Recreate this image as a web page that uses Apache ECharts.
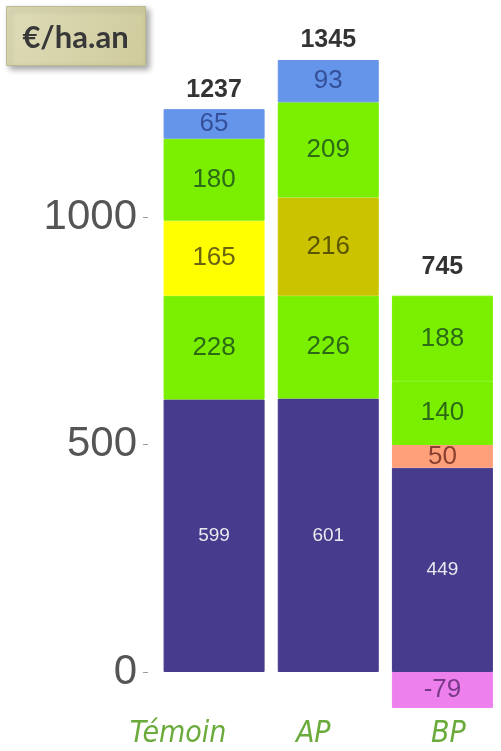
<!DOCTYPE html>
<html>
<head>
<meta charset="utf-8">
<script src="https://cdn.jsdelivr.net/npm/echarts@6/dist/echarts.min.js"></script>
<style>
  html, body { margin: 0; padding: 0; background: #ffffff; }
  #chart { width: 501px; height: 751px; }
</style>
</head>
<body>
<div id="chart"></div>
<script>
// Categories (scenarios) and stacked components, €/ha.an
const categories = ['Témoin', 'AP', 'BP'];
const layer1 = [599, 601, 449];      // base
const layer2 = [228, 226, 50];
const layer3 = [165, 216, 140];
const layer4 = [180, 209, 188];
const layer5 = [65, 93, null];
const negative = [null, null, -79];
const totals = [1237, 1345, 745];
const yTickValues = [0, 500, 1000];

// Fill colours for each layer, one per category
const layer1Colors = ['#473b8d', '#473b8d', '#473b8d'];
const layer2Colors = ['#7af000', '#7af000', '#ffa07a'];
const layer3Colors = ['#ffff00', '#cbc300', '#7af000'];
const layer4Colors = ['#7af000', '#7af000', '#7af000'];
const layer5Colors = ['#6595ea', '#6595ea', '#6595ea'];
const negativeColors = ['#ee80ee', '#ee80ee', '#ee80ee'];

// Darker text tone used for the value written on each fill colour
const labelTone = {
  '#473b8d': '#e8e8ee',
  '#7af000': '#2c6a16',
  '#ffa07a': '#8a4030',
  '#ffff00': '#6a6410',
  '#cbc300': '#5c5500',
  '#6595ea': '#35509a',
  '#ee80ee': '#783a88'
};

function buildData(values, colors) {
  return values.map((v, i) => {
    if (v === null) return null;
    const c = colors[i];
    return {
      value: v,
      // a hairline border in the fill colour hides seams between stacked pieces
      itemStyle: { color: c, borderColor: c, borderWidth: 1 },
      label: {
        color: labelTone[c],
        fontSize: c === '#473b8d' ? 19 : 26
      }
    };
  });
}

function barSeries(name, values, colors) {
  return {
    name: name,
    type: 'bar',
    stack: 'total',
    barWidth: 101,
    data: buildData(values, colors),
    label: {
      show: true,
      position: 'inside',
      fontFamily: 'Liberation Sans, Arial, sans-serif'
    },
    emphasis: { disabled: true },
    silent: true
  };
}

// Top of each positive stack, where the total is written
const stackTops = categories.map((_, i) =>
  [layer1, layer2, layer3, layer4, layer5].reduce((s, arr) => s + (arr[i] > 0 ? arr[i] : 0), 0)
);
const totalDistance = [7, 7, 16];

// Horizontal nudge of each category name
const nameShift = [-36, -15, 6];

const chart = echarts.init(document.getElementById('chart'), null, { renderer: 'canvas' });

chart.setOption({
  animation: false,
  backgroundColor: '#ffffff',
  grid: {
    left: 157, right: 1.5, top: 35, bottom: 33.5,
    containLabel: false,
    outerBoundsMode: 'none'
  },
  xAxis: {
    type: 'category',
    data: categories,
    axisLine: { show: false, onZero: false },
    axisTick: { show: false },
    splitLine: { show: false },
    axisLabel: {
      interval: 0,
      hideOverlap: false,
      margin: 2,
      formatter: (v) => {
        const i = categories.indexOf(v);
        return '{c' + i + '|' + v + '}';
      },
      rich: Object.fromEntries(categories.map((c, i) => {
        const d = nameShift[i];
        return ['c' + i, {
          fontFamily: 'Liberation Sans Narrow, DejaVu Sans Condensed, sans-serif',
          fontStyle: 'italic',
          fontSize: 30,
          color: '#6aab3c',
          lineHeight: 30,
          padding: d < 0 ? [0, -2 * d, 0, 0] : [0, 0, 0, 2 * d]
        }];
      }))
    }
  },
  yAxis: {
    type: 'value',
    min: -100,
    max: 1400,
    offset: 9,
    axisLine: { show: false },
    axisTick: {
      show: true,
      length: 5,
      customValues: yTickValues,
      lineStyle: { color: '#9a9a9a', width: 1 }
    },
    splitLine: { show: false },
    axisLabel: {
      customValues: yTickValues,
      formatter: (v) => String(v),
      margin: 11,
      fontSize: 42,
      fontFamily: 'Liberation Sans, Arial, sans-serif',
      color: '#555555'
    }
  },
  series: [
    barSeries('layer1', layer1, layer1Colors),
    barSeries('layer2', layer2, layer2Colors),
    barSeries('layer3', layer3, layer3Colors),
    barSeries('layer4', layer4, layer4Colors),
    barSeries('layer5', layer5, layer5Colors),
    barSeries('negative', negative, negativeColors),
    {
      name: 'total',
      type: 'scatter',
      symbolSize: 0,
      silent: true,
      data: stackTops.map((v, i) => ({
        value: v,
        label: { distance: totalDistance[i] }
      })),
      label: {
        show: true,
        position: 'top',
        fontFamily: 'Liberation Sans, Arial, sans-serif',
        fontWeight: 'bold',
        fontSize: 25,
        color: '#000000',
        formatter: (p) => String(totals[p.dataIndex])
      }
    }
  ],
  graphic: [
    {
      type: 'group',
      left: 6,
      top: 6,
      children: [
        {
          type: 'rect',
          shape: { x: 0, y: 0, width: 139, height: 59 },
          style: {
            fill: new echarts.graphic.LinearGradient(0, 0, 1, 1, [
              { offset: 0, color: '#dedcb8' },
              { offset: 1, color: '#cfcb9c' }
            ]),
            stroke: '#bdb98c',
            lineWidth: 1,
            shadowBlur: 6,
            shadowOffsetX: 3,
            shadowOffsetY: 3,
            shadowColor: 'rgba(0,0,0,0.35)'
          }
        },
        {
          type: 'text',
          x: 69,
          y: 31,
          style: {
            text: '€/ha.an',
            fontFamily: 'Lato, Open Sans, sans-serif',
            fontWeight: 'bold',
            fontSize: 31,
            fill: '#383838',
            align: 'center',
            verticalAlign: 'middle'
          }
        }
      ]
    }
  ]
});
</script>
</body>
</html>
